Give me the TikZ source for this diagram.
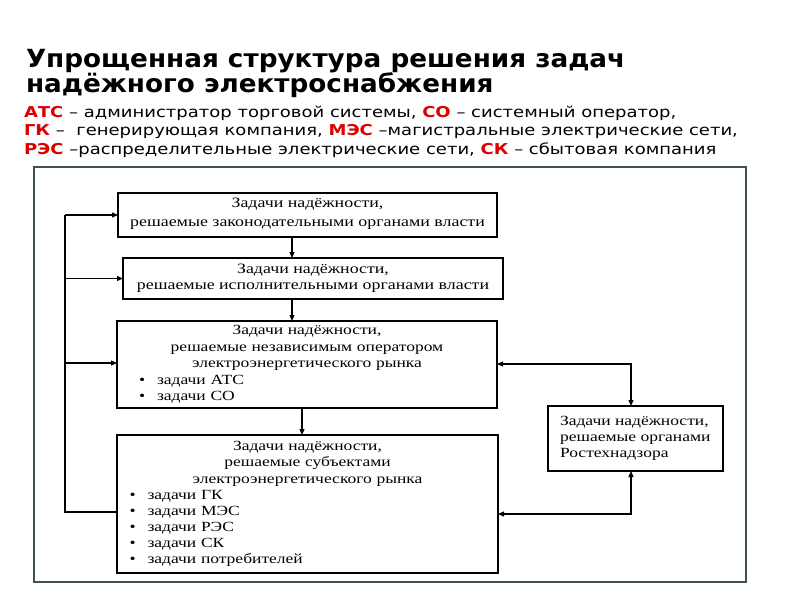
\documentclass[tikz,border=0pt]{standalone}
\usepackage{fontspec}
\setmainfont{Liberation Serif}
\newfontfamily\titlefont[FakeStretch=1.05]{DejaVu Sans}
\newfontfamily\legendfont[FakeStretch=1.2]{DejaVu Sans}
\newfontfamily\boxfont[FakeStretch=1.25]{Liberation Serif}
\usetikzlibrary{arrows.meta}
\definecolor{keyred}{RGB}{220,0,0}
\definecolor{framegray}{RGB}{62,80,80}
\newcommand{\key}[1]{\textcolor{keyred}{\bfseries #1}}
\newcommand{\bitem}[2]{\makebox[\linewidth][l]{\hspace*{#1}\textbullet\hspace{0.85em}#2}}
\begin{document}
\begin{tikzpicture}[y=-1pt, x=1pt, inner sep=0pt, outer sep=0pt,
  taskbox/.style={draw=black, line width=1.4pt, anchor=north west},
  titleline/.style={anchor=base west, font=\titlefont\bfseries\fontsize{25}{28}\selectfont},
  keyline/.style={anchor=base west, font=\legendfont\fontsize{15}{18}\selectfont},
  arr/.style={-{Triangle[length=6pt,width=5pt]}, line width=1.1pt},
  darr/.style={{Triangle[length=6pt,width=5pt]}-{Triangle[length=6pt,width=5pt]}, line width=1.1pt}]
\useasboundingbox[fill=white] (0,0) rectangle (800,600);
% title and legend
\node[titleline] (title1) at (26,67) {Упрощенная структура решения задач};
\node[titleline] (title2) at (26,92) {надёжного электроснабжения};
\node[keyline] (key1) at (24,117) {\key{АТС} – администратор торговой системы, \key{СО} – системный оператор,};
\node[keyline] (key2) at (24,135.5) {\key{ГК} – \ генерирующая компания, \key{МЭС} –магистральные электрические сети,};
\node[keyline] (key3) at (24,154) {\key{РЭС} –распределительные электрические сети, \key{СК} – сбытовая компания};
\path[draw=framegray, line width=1.2pt] (34,167) rectangle (746,582);
% boxes
\node[taskbox, minimum width=379pt, minimum height=44pt] (law) at (118,193) {};
\node[align=center, font=\boxfont\fontsize{14.3}{19}\selectfont] at ([yshift=1pt]law.center)
  {Задачи надёжности,\\решаемые законодательными органами власти};
\node[taskbox, minimum width=380pt, minimum height=41pt] (exec) at (123,258) {};
\node[align=center, font=\boxfont\fontsize{14.3}{16}\selectfont] at (exec.center)
  {Задачи надёжности,\\решаемые исполнительными органами власти};
\node[taskbox, minimum width=380pt, minimum height=87pt] (oper) at (117,321) {};
\node[align=center, text width=360pt, font=\boxfont\fontsize{14}{16.6}\selectfont] at (oper.center)
  {Задачи надёжности,\\решаемые независимым оператором\\электроэнергетического рынка\\
   \bitem{12pt}{задачи АТС}\\\bitem{12pt}{задачи СО}};
\node[taskbox, minimum width=381pt, minimum height=138pt] (subj) at (117,435) {};
\node[align=center, text width=360pt, font=\boxfont\fontsize{14}{16.1}\selectfont] at (subj.center)
  {Задачи надёжности,\\решаемые субъектами\\электроэнергетического рынка\\
   \bitem{2pt}{задачи ГК}\\\bitem{2pt}{задачи МЭС}\\\bitem{2pt}{задачи РЭС}\\
   \bitem{2pt}{задачи СК}\\\bitem{2pt}{задачи потребителей}};
\node[taskbox, minimum width=175pt, minimum height=65pt] (rtn) at (548,406) {};
\node[align=left, anchor=west, font=\boxfont\fontsize{14}{16}\selectfont] at ([xshift=12pt]rtn.west)
  {Задачи надёжности,\\решаемые органами\\Ростехнадзора};
% connectors
\coordinate (bus) at (65,215);
\draw[line width=1.1pt] (subj.west |- 0,512) -| (bus);
\draw[arr] (bus) -- (law.west);
\draw[arr] (bus |- exec.west) -- (exec.west);
\draw[arr] (bus |- 0,363) -- (oper.west |- 0,363);
\draw[arr] (law.south -| 292,0) -- (exec.north -| 292,0);
\draw[arr] (exec.south -| 292,0) -- (oper.north -| 292,0);
\draw[arr] (oper.south -| 302,0) -- (subj.north -| 302,0);
\draw[darr] (oper.east |- 0,364) -| (rtn.north -| 631,0);
\draw[darr] (subj.east |- 0,514) -| (rtn.south -| 631,0);
\end{tikzpicture}
\end{document}
